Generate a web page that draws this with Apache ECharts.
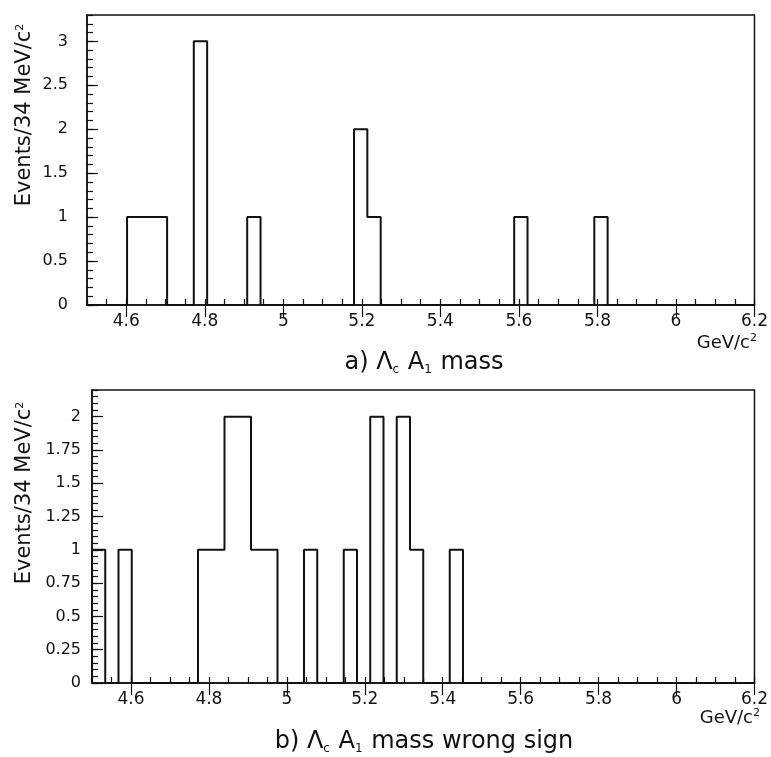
<!DOCTYPE html>
<html>
<head>
<meta charset="utf-8">
<script src="https://cdn.jsdelivr.net/npm/echarts@6/dist/echarts.min.js"></script>
<style>
  html, body { margin: 0; padding: 0; background: #fff; }
  #chart { width: 771px; height: 757px; }
</style>
</head>
<body>
<div id="chart"></div>
<script>
// Histogram binning: 50 bins of 34 MeV from 4.5 to 6.2 GeV/c^2
const massLow = 4.5;
const massHigh = 6.2;
const binWidth = 0.034;

// a) Lambda_c A1 mass: entries per bin
const countsRight = [
  0, 0, 0, 1, 1, 1, 0, 0, 3, 0,
  0, 0, 1, 0, 0, 0, 0, 0, 0, 0,
  2, 1, 0, 0, 0, 0, 0, 0, 0, 0,
  0, 0, 1, 0, 0, 0, 0, 0, 1, 0,
  0, 0, 0, 0, 0, 0, 0, 0, 0, 0
];

// b) Lambda_c A1 mass, wrong sign: entries per bin
const countsWrong = [
  1, 0, 1, 0, 0, 0, 0, 0, 1, 1,
  2, 2, 1, 1, 0, 0, 1, 0, 0, 1,
  0, 2, 0, 2, 1, 0, 0, 1, 0, 0,
  0, 0, 0, 0, 0, 0, 0, 0, 0, 0,
  0, 0, 0, 0, 0, 0, 0, 0, 0, 0
];

// Axis labels
const xTickLabels = [4.6, 4.8, 5, 5.2, 5.4, 5.6, 5.8, 6, 6.2];
const yTickLabelsA = [0, 0.5, 1, 1.5, 2, 2.5, 3];
const yTickLabelsB = [0, 0.25, 0.5, 0.75, 1, 1.25, 1.5, 1.75, 2];
const yMaxA = 3.3;
const yMaxB = 2.2;

// Turn bin contents into a histogram outline (step at bin edges)
function outline(counts) {
  const pts = [[massLow, 0]];
  counts.forEach((c, i) => pts.push([+(massLow + i * binWidth).toFixed(4), c]));
  pts.push([+(massLow + counts.length * binWidth).toFixed(4), 0]);
  return pts;
}

const INK = '#111';
const FONT = 'DejaVu Sans';
const tickFont = { color: INK, fontFamily: FONT, fontSize: 16 };

function xAxes(gridIndex) {
  return [
    {
      gridIndex, type: 'value', min: massLow, max: massHigh, interval: 0.05,
      axisLine: { show: true, onZero: false, lineStyle: { color: INK, width: 1.5 } },
      axisTick: { show: true, inside: true, length: 6, lineStyle: { color: INK, width: 1.2 } },
      axisLabel: { show: true, customValues: xTickLabels, margin: 8, ...tickFont, fontSize: 17 },
      splitLine: { show: false }
    },
    {
      gridIndex, type: 'value', min: massLow, max: massHigh,
      axisLine: { show: false },
      axisTick: { show: true, inside: true, length: 12, customValues: xTickLabels, lineStyle: { color: INK, width: 1.2 } },
      axisLabel: { show: false },
      splitLine: { show: false }
    }
  ];
}

function yAxes(gridIndex, max, minorStep, labels, margin) {
  return [
    {
      gridIndex, type: 'value', min: 0, max, interval: minorStep,
      axisLine: { show: true, onZero: false, lineStyle: { color: INK, width: 1.5 } },
      axisTick: { show: true, inside: true, length: 6, lineStyle: { color: INK, width: 1.2 } },
      axisLabel: { show: true, customValues: labels, margin, ...tickFont },
      splitLine: { show: false }
    },
    {
      gridIndex, type: 'value', min: 0, max, position: 'left',
      axisLine: { show: false },
      axisTick: { show: true, inside: true, length: 11, customValues: labels, lineStyle: { color: INK, width: 1.2 } },
      axisLabel: { show: false },
      splitLine: { show: false }
    }
  ];
}

const chart = echarts.init(document.getElementById('chart'), null, { renderer: 'canvas' });

const subRich = {
  s: { fontSize: 12, fontFamily: FONT, color: INK, padding: [13, 1, 0, 0] },
  sup: { fontSize: 11, fontFamily: FONT, color: INK, padding: [0, 0, 10, 0] }
};

function caption(text, x, y) {
  return {
    type: 'text', x, y,
    style: {
      text, align: 'center', verticalAlign: 'middle',
      fontFamily: FONT, fontSize: 24, fill: INK,
      rich: subRich
    }
  };
}

function unitLabel(x, y) {
  return {
    type: 'text', x, y,
    style: {
      text: 'GeV/c{sup|2}', align: 'right', verticalAlign: 'middle',
      fontFamily: FONT, fontSize: 18, fill: INK, rich: subRich
    }
  };
}

function yTitle(x, y) {
  return {
    type: 'text', x, y, rotation: Math.PI / 2,
    style: {
      text: 'Events/34 MeV/c{sup|2}', align: 'center', verticalAlign: 'middle',
      fontFamily: FONT, fontSize: 21, fill: INK, rich: subRich
    }
  };
}

chart.setOption({
  animation: false,
  backgroundColor: '#fff',
  grid: [
    { left: 87, top: 15, width: 668, height: 290, show: true, borderColor: INK, borderWidth: 1.5, backgroundColor: 'transparent' },
    { left: 92, top: 390, width: 668, height: 293, show: true, borderColor: INK, borderWidth: 1.5, backgroundColor: 'transparent' }
  ],
  xAxis: [...xAxes(0), ...xAxes(1)],
  yAxis: [...yAxes(0, yMaxA, 0.1, yTickLabelsA, 19), ...yAxes(1, yMaxB, 0.05, yTickLabelsB, 11)],
  series: [
    {
      type: 'line', step: 'end', xAxisIndex: 0, yAxisIndex: 0,
      data: outline(countsRight), symbol: 'none',
      lineStyle: { color: INK, width: 2 }
    },
    {
      type: 'line', step: 'end', xAxisIndex: 2, yAxisIndex: 2,
      data: outline(countsWrong), symbol: 'none',
      lineStyle: { color: INK, width: 2 }
    }
  ],
  graphic: [
    yTitle(25, 115),
    yTitle(25, 493),
    unitLabel(757, 343),
    unitLabel(760, 718),
    caption('a) Λ{s|c} A{s|1} mass', 424, 363),
    caption('b) Λ{s|c} A{s|1} mass wrong sign', 424, 742)
  ]
});
</script>
</body>
</html>
